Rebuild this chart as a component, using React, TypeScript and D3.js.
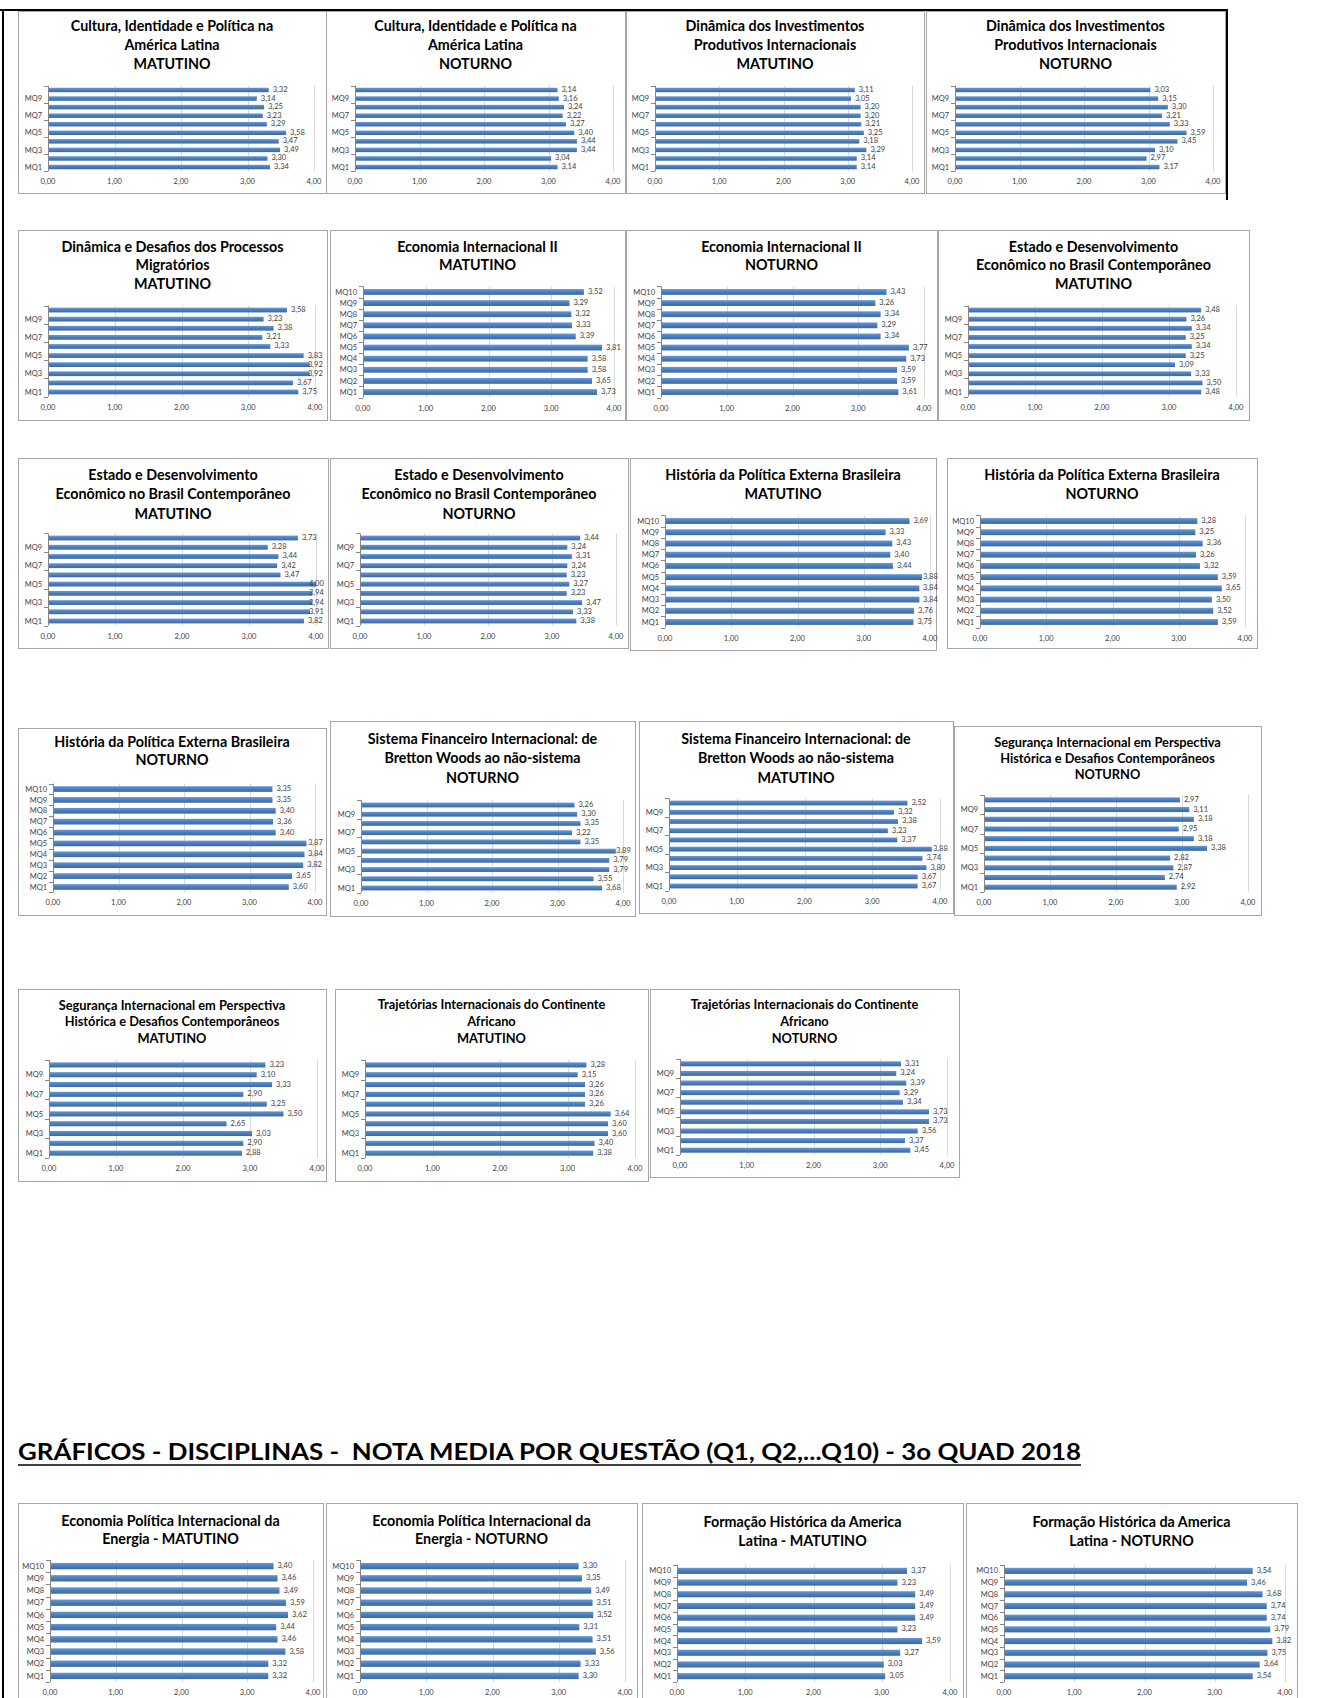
import React from "react";
import * as d3 from "d3";

// ---------- data ----------
const CATS = ["MQ1", "MQ2", "MQ3", "MQ4", "MQ5", "MQ6", "MQ7", "MQ8", "MQ9", "MQ10"];
const AXIS_TICKS = [0, 1, 2, 3, 4];
const HEADING = "GRÁFICOS - DISCIPLINAS -  NOTA MEDIA POR QUESTÃO (Q1, Q2,...Q10) - 3o QUAD 2018";

// values listed MQ1 .. MQ10
const culturaMat = [3.34, 3.30, 3.49, 3.47, 3.58, 3.29, 3.23, 3.25, 3.14, 3.32];
const culturaNot = [3.14, 3.04, 3.44, 3.44, 3.40, 3.27, 3.22, 3.24, 3.16, 3.14];
const dinInvMat = [3.14, 3.14, 3.29, 3.18, 3.25, 3.21, 3.20, 3.20, 3.05, 3.11];
const dinInvNot = [3.17, 2.97, 3.10, 3.45, 3.59, 3.33, 3.21, 3.30, 3.15, 3.03];
const migrMat = [3.75, 3.67, 3.92, 3.92, 3.83, 3.33, 3.21, 3.38, 3.23, 3.58];
const econIIMat = [3.73, 3.65, 3.58, 3.58, 3.81, 3.39, 3.33, 3.32, 3.29, 3.52];
const econIINot = [3.61, 3.59, 3.59, 3.73, 3.77, 3.34, 3.29, 3.34, 3.26, 3.43];
const estadoMatA = [3.48, 3.50, 3.33, 3.09, 3.25, 3.34, 3.25, 3.34, 3.26, 3.48];
const estadoMatB = [3.82, 3.91, 3.94, 3.94, 4.00, 3.47, 3.42, 3.44, 3.28, 3.73];
const estadoNot = [3.38, 3.33, 3.47, 3.23, 3.27, 3.23, 3.24, 3.31, 3.24, 3.44];
const histMat = [3.75, 3.76, 3.84, 3.84, 3.88, 3.44, 3.40, 3.43, 3.33, 3.69];
const histNotA = [3.59, 3.52, 3.50, 3.65, 3.59, 3.32, 3.26, 3.36, 3.25, 3.28];
const histNotB = [3.60, 3.65, 3.82, 3.84, 3.87, 3.40, 3.36, 3.40, 3.35, 3.35];
const sfiNot = [3.68, 3.55, 3.79, 3.79, 3.89, 3.35, 3.22, 3.35, 3.30, 3.26];
const sfiMat = [3.67, 3.67, 3.80, 3.74, 3.88, 3.37, 3.23, 3.38, 3.32, 3.52];
const segNot = [2.92, 2.74, 2.87, 2.82, 3.38, 3.18, 2.95, 3.18, 3.11, 2.97];
const segMat = [2.88, 2.90, 3.03, 2.65, 3.50, 3.25, 2.90, 3.33, 3.10, 3.23];
const trajMat = [3.38, 3.40, 3.60, 3.60, 3.64, 3.26, 3.26, 3.26, 3.15, 3.28];
const trajNot = [3.45, 3.37, 3.56, 3.73, 3.73, 3.34, 3.29, 3.39, 3.24, 3.31];
const epieMat = [3.32, 3.32, 3.58, 3.46, 3.44, 3.62, 3.59, 3.49, 3.46, 3.40];
const epieNot = [3.30, 3.33, 3.56, 3.51, 3.31, 3.52, 3.51, 3.49, 3.35, 3.30];
const fhalMat = [3.05, 3.03, 3.27, 3.59, 3.23, 3.49, 3.49, 3.49, 3.23, 3.37];
const fhalNot = [3.54, 3.64, 3.75, 3.82, 3.79, 3.74, 3.74, 3.68, 3.46, 3.54];

const T_CULT = ["Cultura, Identidade e Política na", "América Latina"];
const T_DININV = ["Dinâmica dos Investimentos", "Produtivos Internacionais"];
const T_MIGR = ["Dinâmica e Desafios dos Processos", "Migratórios"];
const T_ECON = ["Economia Internacional II"];
const T_EST = ["Estado e Desenvolvimento", "Econômico no Brasil Contemporâneo"];
const T_HIST = ["História da Política Externa Brasileira"];
const T_SFI = ["Sistema Financeiro Internacional: de", "Bretton Woods ao não-sistema"];
const T_SEG = ["Segurança Internacional em Perspectiva", "Histórica e Desafios Contemporâneos"];
const T_TRAJ = ["Trajetórias Internacionais do Continente", "Africano"];

// ---------- layout ----------
type P = {
  title: string[]; values: number[]; all: boolean;
  box: number[]; x0: number; x4: number; top: number; bottom: number;
  ty: number; lh: number; fs: number;
};

const BIG = 14.3;
const SMALL = 12.8;

const panels: P[] = [
  { title: [...T_CULT, "MATUTINO"], values: culturaMat, all: false, box: [18, 11, 326, 193], x0: 48, x4: 314, top: 85.7, bottom: 171.3, ty: 31, lh: 19, fs: BIG },
  { title: [...T_CULT, "NOTURNO"], values: culturaNot, all: false, box: [326, 11, 625, 193], x0: 355, x4: 613, top: 85.7, bottom: 171.3, ty: 31, lh: 19, fs: BIG },
  { title: [...T_DININV, "MATUTINO"], values: dinInvMat, all: false, box: [626, 11, 924, 193], x0: 655, x4: 912, top: 85.7, bottom: 171.3, ty: 31, lh: 19, fs: BIG },
  { title: [...T_DININV, "NOTURNO"], values: dinInvNot, all: false, box: [926, 11, 1225, 193], x0: 955, x4: 1213, top: 85.7, bottom: 171.3, ty: 31, lh: 19, fs: BIG },

  { title: [...T_MIGR, "MATUTINO"], values: migrMat, all: false, box: [18, 230, 327, 420], x0: 48, x4: 315, top: 305.5, bottom: 396.5, ty: 252, lh: 18.4, fs: BIG },
  { title: [...T_ECON, "MATUTINO"], values: econIIMat, all: true, box: [330, 230, 625, 420], x0: 363, x4: 614, top: 286.4, bottom: 397.6, ty: 252, lh: 18.4, fs: BIG },
  { title: [...T_ECON, "NOTURNO"], values: econIINot, all: true, box: [626, 230, 937, 420], x0: 661, x4: 924, top: 286.4, bottom: 397.6, ty: 252, lh: 18.4, fs: BIG },
  { title: [...T_EST, "MATUTINO"], values: estadoMatA, all: false, box: [938, 230, 1249, 420], x0: 968, x4: 1236, top: 305.5, bottom: 396.5, ty: 252, lh: 18.4, fs: BIG },

  { title: [...T_EST, "MATUTINO"], values: estadoMatB, all: false, box: [18, 458, 328, 648], x0: 48, x4: 316, top: 533.4, bottom: 625.6, ty: 479.5, lh: 19.5, fs: BIG },
  { title: [...T_EST, "NOTURNO"], values: estadoNot, all: false, box: [330, 458, 628, 648], x0: 360, x4: 616, top: 533.4, bottom: 625.6, ty: 479.5, lh: 19.5, fs: BIG },
  { title: [...T_HIST, "MATUTINO"], values: histMat, all: true, box: [630, 458, 936, 650], x0: 665, x4: 930, top: 515.4, bottom: 627.6, ty: 479.5, lh: 19.5, fs: BIG },
  { title: [...T_HIST, "NOTURNO"], values: histNotA, all: true, box: [947, 458, 1257, 648], x0: 980, x4: 1245, top: 515.4, bottom: 627.6, ty: 479.5, lh: 19.5, fs: BIG },

  { title: [...T_HIST, "NOTURNO"], values: histNotB, all: true, box: [18, 728, 326, 915], x0: 53, x4: 315, top: 783.6, bottom: 892.4, ty: 747, lh: 18.4, fs: BIG },
  { title: [...T_SFI, "NOTURNO"], values: sfiNot, all: false, box: [330, 721, 635, 916], x0: 361, x4: 623, top: 800.4, bottom: 892.6, ty: 743.5, lh: 19.5, fs: BIG },
  { title: [...T_SFI, "MATUTINO"], values: sfiMat, all: false, box: [639, 721, 953, 913], x0: 669, x4: 940, top: 798.4, bottom: 890.6, ty: 743.5, lh: 19.5, fs: BIG },
  { title: [...T_SEG, "NOTURNO"], values: segNot, all: false, box: [954, 726, 1261, 915], x0: 984, x4: 1248, top: 795, bottom: 892, ty: 746.5, lh: 16.3, fs: SMALL },

  { title: [...T_SEG, "MATUTINO"], values: segMat, all: false, box: [18, 989, 326, 1181], x0: 49, x4: 317, top: 1060, bottom: 1158, ty: 1009.5, lh: 16.8, fs: SMALL },
  { title: [...T_TRAJ, "MATUTINO"], values: trajMat, all: false, box: [335, 989, 648, 1181], x0: 365, x4: 635, top: 1060, bottom: 1158, ty: 1008.5, lh: 17.4, fs: SMALL },
  { title: [...T_TRAJ, "NOTURNO"], values: trajNot, all: false, box: [650, 989, 959, 1177], x0: 680, x4: 947, top: 1059, bottom: 1155, ty: 1008.5, lh: 17.4, fs: SMALL },

  { title: ["Economia Política Internacional da", "Energia - MATUTINO"], values: epieMat, all: true, box: [18, 1503, 323, 1712], x0: 50, x4: 313, top: 1560, bottom: 1682, ty: 1526, lh: 18.4, fs: BIG },
  { title: ["Economia Política Internacional da", "Energia - NOTURNO"], values: epieNot, all: true, box: [326, 1503, 637, 1712], x0: 360, x4: 625, top: 1560, bottom: 1682, ty: 1526, lh: 18.4, fs: BIG },
  { title: ["Formação Histórica da America", "Latina - MATUTINO"], values: fhalMat, all: true, box: [642, 1503, 963, 1712], x0: 677, x4: 950, top: 1565, bottom: 1682, ty: 1527, lh: 18.7, fs: BIG },
  { title: ["Formação Histórica da America", "Latina - NOTURNO"], values: fhalNot, all: true, box: [966, 1503, 1297, 1712], x0: 1004, x4: 1285, top: 1565, bottom: 1682, ty: 1527, lh: 18.7, fs: BIG },
];

const FONT = "Lato, 'Open Sans', sans-serif";
const fmt = (v: number) => d3.format(".2f")(v).replace(".", ",");

function Panel({ p }: { p: P }) {
  const [bx1, by1, bx2, by2] = p.box;
  const x = d3.scaleLinear().domain([0, 4]).range([p.x0, p.x4]);
  const topDown = [...CATS].reverse();
  const y = d3.scaleBand<string>().domain(topDown).range([p.top, p.bottom]).paddingInner(0.48).paddingOuter(0.24);
  const step = y.step();
  const cx = (bx1 + bx2) / 2;
  const boundaries = d3.range(0, 11).filter((i) => p.all || i % 2 === 0);
  const labelMax = p.x4 - 7;
  return (
    <g>
      <rect x={bx1 + 0.5} y={by1 + 0.5} width={bx2 - bx1} height={by2 - by1} fill="#fff" stroke="#a6a6a6" strokeWidth={1} />
      {p.title.map((t, i) => (
        <text key={i} x={cx} y={p.ty + i * p.lh} textAnchor="middle" fontFamily={FONT} fontWeight={700} fontSize={p.fs} fill="#000">{t}</text>
      ))}
      {AXIS_TICKS.slice(1).map((t) => (
        <line key={t} x1={Math.round(x(t)) + 0.5} x2={Math.round(x(t)) + 0.5} y1={p.top} y2={p.bottom} stroke="#d9d9d9" strokeWidth={1} />
      ))}
      {CATS.map((c, i) => (
        <rect key={c} x={x(0)} y={y(c)!} width={x(p.values[i]) - x(0)} height={y.bandwidth()} fill="url(#barGrad)" />
      ))}
      <line x1={Math.round(x(0)) + 0.5} x2={Math.round(x(0)) + 0.5} y1={p.top} y2={p.bottom} stroke="#868686" strokeWidth={1} />
      {boundaries.map((i) => (
        <line key={i} x1={x(0) - 4} x2={x(0)} y1={Math.round(p.top + i * step) + 0.5} y2={Math.round(p.top + i * step) + 0.5} stroke="#868686" strokeWidth={1} />
      ))}
      {CATS.map((c, i) => (
        (p.all || i % 2 === 0) ? (
          <text key={c} x={x(0) - 6} y={y(c)! + y.bandwidth() / 2 + 2.6} textAnchor="end" fontFamily={FONT} fontSize={7.5} fill="#404040">{c}</text>
        ) : null
      ))}
      {CATS.map((c, i) => (
        <text key={c} x={Math.min(x(p.values[i]) + 4, labelMax)} y={y(c)! + y.bandwidth() / 2 + 2} fontFamily={FONT} fontSize={7.5} fill="#404040">{fmt(p.values[i])}</text>
      ))}
      {AXIS_TICKS.map((t) => (
        <text key={t} x={x(t)} y={p.bottom + 13} textAnchor="middle" fontFamily={FONT} fontSize={7.5} fill="#404040">{fmt(t)}</text>
      ))}
    </g>
  );
}

export default function App() {
  return (
    <svg width={1328} height={1698} style={{ position: "absolute", left: 0, top: 0, background: "#fff" }}>
      <defs>
        <linearGradient id="barGrad" x1="0" y1="0" x2="0" y2="1">
          <stop offset="0" stopColor="#6a98d0" />
          <stop offset="0.5" stopColor="#4a7dbb" />
          <stop offset="1" stopColor="#3a6aa6" />
        </linearGradient>
      </defs>
      <rect x={0} y={0} width={1328} height={1698} fill="#fff" />
      {panels.map((p, i) => <Panel key={i} p={p} />)}
      {/* page frame */}
      <line x1={0} x2={1228} y1={10} y2={10} stroke="#000" strokeWidth={2} />
      <line x1={3} x2={3} y1={9} y2={1698} stroke="#000" strokeWidth={2} />
      <line x1={1227} x2={1227} y1={9} y2={200} stroke="#000" strokeWidth={2} />
      <text x={18} y={1460} fontFamily={FONT} fontWeight={700} fontSize={23} fill="#000" textLength={1063} lengthAdjust="spacingAndGlyphs" style={{ whiteSpace: "pre" }}>{HEADING}</text>
      <line x1={18} x2={1081} y1={1465} y2={1465} stroke="#000" strokeWidth={1.6} />
    </svg>
  );
}
